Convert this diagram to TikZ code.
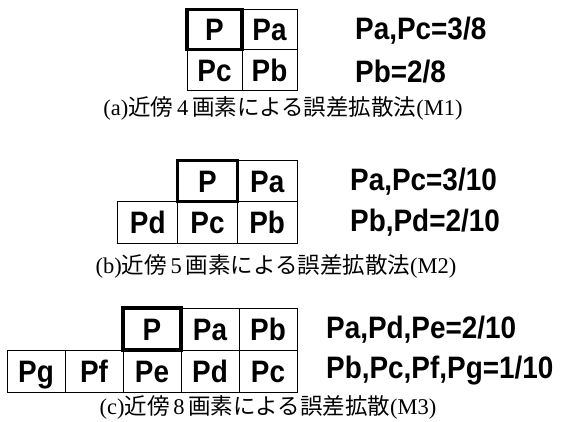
\documentclass[tikz,border=0pt]{standalone}
\usepackage{fontspec}
\setmainfont{Liberation Serif}
\newfontfamily\cjk{Noto Sans CJK JP}
\newfontfamily\lab[FakeStretch=0.9]{Liberation Sans}
\tikzset{
  labfont/.style={font=\lab\bfseries\fontsize{31}{31}\selectfont},
  cellbox/.style={draw, line width=1pt, inner sep=0pt, outer sep=0pt, labfont,
    text height=22.2pt, text depth=0pt},
  pbox/.style={cellbox, line width=3.2pt},
  rate/.style={anchor=west, inner sep=0pt, labfont},
  capt/.style={inner sep=0pt, font=\fontsize{22.5}{22.5}\selectfont}
}
\begin{document}
\begin{tikzpicture}[x=1pt,y=-1pt]
\useasboundingbox (0,0) rectangle (564,421);
% (a)  grid x: 188,242,297  y: 9,50,90
\begin{scope}[every node/.append style={minimum width=55pt, minimum height=40.5pt}]
\node[cellbox] (aPa) at (269.5,29.5) {Pa};
\node[cellbox] (aPc) at (214.5,70) {Pc};
\node[cellbox] (aPb) at (269.5,70) {Pb};
\node[pbox] (aP) at (214.5,29.5) {P};
\end{scope}
\node[rate] (ar1) at (355,31) {Pa,Pc=3/8};
\node[rate] (ar2) at (355,72) {Pb=2/8};
\node[capt] (acap) at (283,108) {(a){\cjk 近傍}\,4\,{\cjk 画素による誤差拡散法}(M1)};
% (b)  grid x: 118,178,238,297  y: 160,202,243
\begin{scope}[every node/.append style={minimum width=59.7pt, minimum height=41.5pt}]
\node[cellbox] (bPa) at (267.2,181) {Pa};
\node[cellbox] (bPd) at (147.8,222.5) {Pd};
\node[cellbox] (bPc) at (207.5,222.5) {Pc};
\node[cellbox] (bPb) at (267.2,222.5) {Pb};
\node[pbox] (bP) at (207.5,181) {P};
\end{scope}
\node[rate] (br1) at (350,182) {Pa,Pc=3/10};
\node[rate] (br2) at (350,223) {Pb,Pd=2/10};
\node[capt] (bcap) at (276,266) {(b){\cjk 近傍}\,5\,{\cjk 画素による誤差拡散法}(M2)};
% (c)  grid x: 7 .. 297 (5 cells of 58)  y: 308,350,392
\begin{scope}[every node/.append style={minimum width=58pt, minimum height=42pt}]
\node[cellbox] (cPa) at (210,329) {Pa};
\node[cellbox] (cPb) at (268,329) {Pb};
\node[cellbox] (cPg) at (36,371) {Pg};
\node[cellbox] (cPf) at (94,371) {Pf};
\node[cellbox] (cPe) at (152,371) {Pe};
\node[cellbox] (cPd) at (210,371) {Pd};
\node[cellbox] (cPc) at (268,371) {Pc};
\node[pbox] (cP) at (152,329) {P};
\end{scope}
\node[rate] (cr1) at (326,330) {Pa,Pd,Pe=2/10};
\node[rate] (cr2) at (326,371) {Pb,Pc,Pf,Pg=1/10};
\node[capt] (ccap) at (268,407) {(c){\cjk 近傍}\,8\,{\cjk 画素による誤差拡散}(M3)};
\end{tikzpicture}
\end{document}
